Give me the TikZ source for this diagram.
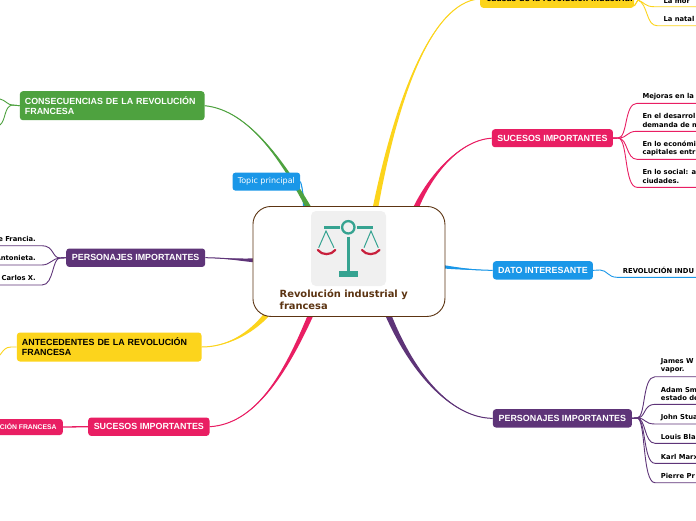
\documentclass[tikz,border=0pt]{standalone}
\usepackage{fontspec}
\setmainfont{Liberation Sans}
\newfontfamily\dv{DejaVu Sans}
\usetikzlibrary{calc,backgrounds}
\definecolor{cgreen}{HTML}{4EA23F}
\definecolor{cblue}{HTML}{1A97E8}
\definecolor{cpurple}{HTML}{5E3478}
\definecolor{cyellow}{HTML}{FCD41C}
\definecolor{cpink}{HTML}{E91E63}
\definecolor{cbrown}{HTML}{5C3412}
\definecolor{cteal}{HTML}{36A391}
\definecolor{cred}{HTML}{C8203C}
\tikzset{
  topicbox/.style={rounded corners=3pt,inner sep=0pt,anchor=north west,align=left,font=\bfseries\fontsize{8.9}{10}\selectfont,text=white},
  leaf/.style={anchor=west,inner sep=0pt,align=left,yshift=-.7pt,font=\dv\bfseries\fontsize{6.8}{8.6}\selectfont,text=black},
  fanline/.style={line width=.9pt},
}
\newcommand{\taper}[6]{\fill[#1] (#2) .. controls (#3) and ($(#4)+0.5*(#6)$) .. ($(#5)+(#6)$) -- ($(#5)-(#6)$) .. controls ($(#4)-0.5*(#6)$) and (#3) .. (#2) -- cycle;
  \draw[#1,line width=1pt] (#2) .. controls (#3) and (#4) .. (#5);}
\begin{document}
\begin{tikzpicture}[x=1pt,y=-1pt]
\useasboundingbox (0,0) rectangle (696,520);
% central
\node[draw=cbrown,line width=.9pt,fill=white,rounded corners=18pt,minimum width=192pt,minimum height=110pt,inner sep=0pt,anchor=north west] (central) at (252.5,206) {};
\fill[fill=black!6!white,rounded corners=5pt] (311,211) rectangle (386,286);
\begin{scope}[cteal]
\draw[line width=2.3pt] (348.3,227.3) circle (6.2pt);
\draw[line width=2.6pt] (324.3,227.5) -- (340,227.5);
\draw[line width=2.6pt] (357.3,227.5) -- (372.7,227.5);
\draw[line width=2.4pt] (348.3,236.7) -- (348.3,271);
\fill (339,270.7) rectangle (358,276.7);
\draw[line width=1pt] (318.7,247.7) -- (326,231) -- (334,247.7);
\draw[line width=1pt] (364,247.7) -- (371,231) -- (378.3,247.7);
\end{scope}
\draw[cred,line width=2.2pt,line cap=round] (317.8,250) .. controls (322,255.5) and (331,255.5) .. (335.3,250);
\draw[cred,line width=2.2pt,line cap=round] (362,250) .. controls (366,255.5) and (375,255.5) .. (379.5,250);
\node[anchor=north west,inner sep=0pt,align=left,text=cbrown,font=\dv\bfseries\fontsize{9.9}{12}\selectfont] (title) at (279.5,289) {Revolución industrial y\\francesa};
% topics
\node[topicbox,fill=cgreen,minimum width=184.6pt,minimum height=29pt,text width=174.6pt,inner xsep=5pt] (conseq) at (19.7,91) {CONSECUENCIAS DE LA REVOLUCIÓN\\FRANCESA};
\node[topicbox,fill=cblue,minimum width=67.7pt,minimum height=18pt,font=\dv\fontsize{8}{10}\selectfont] (tp) at (232.3,172.4) {Topic principal};
\node[topicbox,fill=cpurple,minimum width=139pt,minimum height=18.4pt] (persL) at (66,248.3) {PERSONAJES IMPORTANTES};
\node[topicbox,fill=cyellow,text=black,minimum width=184.6pt,minimum height=29pt,text width=174.6pt,inner xsep=5pt] (ante) at (16.7,332.3) {ANTECEDENTES DE LA REVOLUCIÓN\\FRANCESA};
\node[topicbox,fill=cpink,minimum width=121.3pt,minimum height=18.4pt] (sucL) at (88,417.3) {SUCESOS IMPORTANTES};
\node[topicbox,fill=cpink,anchor=east,minimum width=70pt,minimum height=16pt,font=\bfseries\fontsize{6.8}{8}\selectfont] (revF) at (63,427) {\hspace*{6pt}CIÓN FRANCESA\hspace*{5pt}\null};
\node[topicbox,fill=cyellow,text=black,anchor=south west,minimum width=154pt,minimum height=18pt,font=\dv\bfseries\fontsize{7.7}{9}\selectfont] (causas) at (480,8) {\hspace*{5pt}causas de la revolución industrial};
\node[topicbox,fill=cpink,minimum width=121pt,minimum height=18pt] (sucR) at (491.7,129) {SUCESOS IMPORTANTES};
\node[topicbox,fill=cblue,minimum width=100pt,minimum height=18.3pt] (dato) at (492.7,261) {DATO INTERESANTE};
\node[topicbox,fill=cpurple,minimum width=139pt,minimum height=18.3pt] (persR) at (492.7,409) {PERSONAJES IMPORTANTES};
% leaves
\node[leaf,anchor=east] (l1) at (36,238.7) {e Francia.};
\node[leaf,anchor=east] (l2) at (36,257.7) {Antonieta.};
\node[leaf,anchor=east] (l3) at (36,277) {Carlos X.};
\node[leaf] (c1) at (663.3,0.5) {La mor};
\node[leaf] (c2) at (663.3,18.3) {La natal};
\node[leaf] (s1) at (642.3,96.3) {Mejoras en la};
\node[leaf] (s2) at (642.3,119.8) {En el desarrol\\demanda de m};
\node[leaf] (s3) at (642.3,147.8) {En lo económi\\capitales entr};
\node[leaf] (s4) at (642.3,175.8) {En lo social: a\\ciudades.};
\node[leaf] (d1) at (622.7,270) {REVOLUCIÓN INDU};
\node[leaf,font=\dv\bfseries\fontsize{6.8}{8}\selectfont] (p1) at (660.7,365.3) {James W\\vapor.};
\node[leaf,font=\dv\bfseries\fontsize{6.8}{8}\selectfont] (p2) at (660.7,393.3) {Adam Sm\\estado de};
\node[leaf] (p3) at (660.7,417.3) {John Stua};
\node[leaf] (p4) at (660.7,436.3) {Louis Bla};
\node[leaf] (p5) at (660.7,456.3) {Karl Marx};
\node[leaf] (p6) at (660.7,475.3) {Pierre Pr};
% free ends
\coordinate (eTp) at (305,212);
\coordinate (eGreen) at (310,210);
\coordinate (ePurL) at (258,260.5);
\coordinate (eYelL) at (268,313);
\coordinate (ePinkL) at (312,312);
\coordinate (eYelT) at (375,210);
\coordinate (ePinkR) at (415,210);
\coordinate (eBlue) at (441,266.5);
\coordinate (ePurR) at (387,312);
\coordinate (g1) at (0,99); \coordinate (g2) at (0,125);
\coordinate (y1) at (0,355);
\coordinate (ll1) at (0,245.7); \coordinate (ll2) at (0,265); \coordinate (ll3) at (0,285);
\coordinate (rc1) at (696,6.7); \coordinate (rc2) at (696,25.7);
\coordinate (rs1) at (696,103.3); \coordinate (rs2) at (696,131.3); \coordinate (rs3) at (696,159.3); \coordinate (rs4) at (696,187.3);
\coordinate (rd) at (696,277.3);
\coordinate (rp1) at (696,376.7); \coordinate (rp2) at (696,404.3); \coordinate (rp3) at (696,424); \coordinate (rp4) at (696,443.3); \coordinate (rp5) at (696,463.3); \coordinate (rp6) at (696,482.7);
\begin{scope}[on background layer]
\fill[white] (0,0) rectangle (696,520);
\taper{cblue}{tp.east}{303,188}{303,200}{eTp}{1.6,0}
\taper{cgreen}{conseq.east}{250,110}{285,165}{eGreen}{3,0}
\taper{cpurple}{persL.east}{225,258}{240,260}{ePurL}{0,2.2}
\taper{cyellow}{ante.east}{225,347}{250,335}{eYelL}{2,2}
\taper{cpink}{sucL.east}{255,424}{285,375}{ePinkL}{3,0}
\taper{cyellow}{causas.west}{430,2}{395,105}{eYelT}{2.8,0}
\taper{cpink}{sucR.west}{460,140}{430,175}{ePinkR}{2.6,1}
\taper{cblue}{dato.west}{475,270}{462,269}{eBlue}{0,1.8}
\taper{cpurple}{persR.west}{455,418}{415,380}{ePurR}{2.8,-1}
\begin{scope}[fanline]
\draw[cgreen] (conseq.west) -- (12,105) .. controls (8,105) and (5,100) .. (g1);
\draw[cgreen] (conseq.west) -- (12,105) .. controls (4,107) and (6,120) .. (g2);
\draw[cyellow] (ante.west) -- (11,347) .. controls (5,347) and (3,351) .. (y1);
\draw[cpink,line width=1.3pt] (sucL.west) -- (revF.east);
\draw[cpurple] (persL.west) -- (60,258) .. controls (52,258) and (54,245.7) .. (42,245.7) -- (ll1);
\draw[cpurple] (persL.west) -- (60,258) .. controls (53,258) and (50,265) .. (42,265) -- (ll2);
\draw[cpurple] (persL.west) -- (60,258) .. controls (52,258) and (54,285) .. (42,285) -- (ll3);
\draw[cyellow] (causas.east) ++(0,7) -- (638,0) .. controls (644,2) and (645,6.7) .. (654,6.7) -- (rc1);
\draw[cyellow] (causas.east) ++(0,7) -- (638,0) .. controls (648,4) and (646,25.7) .. (657,25.7) -- (rc2);
\draw[cpink] (sucR.east) -- (618,138) .. controls (628,138) and (624,103.3) .. (637,103.3) -- (rs1);
\draw[cpink] (sucR.east) -- (618,138) .. controls (628,138) and (626,131.3) .. (637,131.3) -- (rs2);
\draw[cpink] (sucR.east) -- (618,138) .. controls (628,138) and (626,159.3) .. (637,159.3) -- (rs3);
\draw[cpink] (sucR.east) -- (618,138) .. controls (628,138) and (624,187.3) .. (637,187.3) -- (rs4);
\draw[cblue] (dato.east) -- (600,270) .. controls (607,270) and (608,277.3) .. (617,277.3) -- (rd);
\draw[cpurple] (persR.east) -- (637,418) .. controls (646,418) and (642,376.7) .. (655,376.7) -- (rp1);
\draw[cpurple] (persR.east) -- (637,418) .. controls (646,418) and (643,404.3) .. (655,404.3) -- (rp2);
\draw[cpurple] (persR.east) -- (637,418) .. controls (646,418) and (644,424) .. (655,424) -- (rp3);
\draw[cpurple] (persR.east) -- (637,418) .. controls (646,418) and (644,443.3) .. (655,443.3) -- (rp4);
\draw[cpurple] (persR.east) -- (637,418) .. controls (646,418) and (643,463.3) .. (655,463.3) -- (rp5);
\draw[cpurple] (persR.east) -- (637,418) .. controls (646,418) and (642,482.7) .. (655,482.7) -- (rp6);
\end{scope}
\end{scope}
\end{tikzpicture}
\end{document}
